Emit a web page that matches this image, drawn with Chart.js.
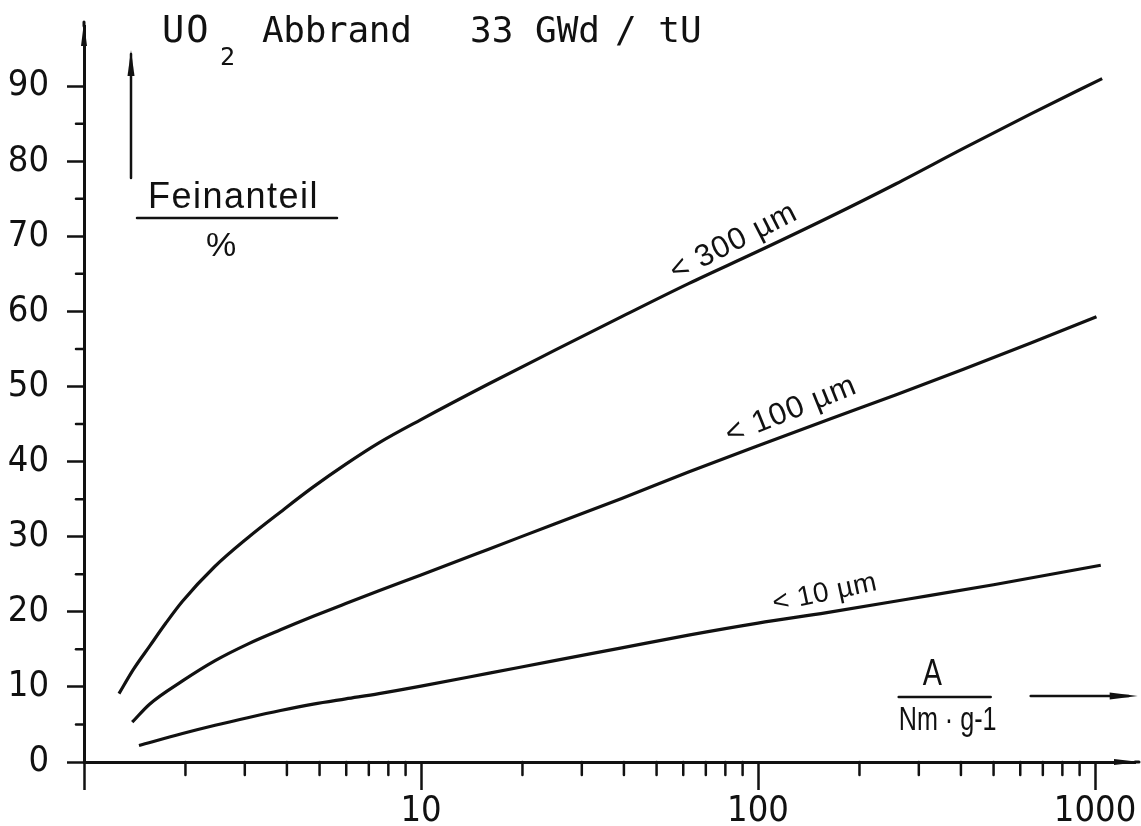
<!DOCTYPE html>
<html>
<head>
<meta charset="utf-8">
<title>UO2 Abbrand 33 GWd/tU – Feinanteil</title>
<script src="https://cdn.jsdelivr.net/npm/chart.js@4.4.1/dist/chart.umd.min.js"></script>
<style>
  html, body { margin: 0; padding: 0; background: #fff; overflow: hidden; }
  canvas { display: block; }
</style>
</head>
<body>
<canvas id="chart" width="1141" height="826"></canvas>
<script>
// Spezifische Zerkleinerungsenergie A (Nm·g-1) und Feinanteil (%) je Kornklasse
const energy300 = [1.27, 1.40, 1.57, 1.75, 1.96, 2.44, 3.07, 3.83, 4.78, 6.0, 7.5, 10, 15.8, 24.9, 39.4, 62.2, 100, 162, 257, 407, 645, 1050];
const fines300  = [9.1, 12.3, 15.5, 18.5, 21.4, 26.0, 29.9, 33.3, 36.6, 39.7, 42.5, 45.6, 50.3, 54.8, 59.3, 63.7, 68.0, 72.5, 77.0, 81.7, 86.3, 91.0];

const energy100 = [1.39, 1.565, 1.96, 2.45, 3.06, 3.83, 4.79, 5.98, 7.5, 10, 15.8, 24.9, 39.4, 62.2, 100, 162, 257, 407, 645, 1010];
const fines100  = [5.3, 7.7, 10.8, 13.5, 15.7, 17.6, 19.4, 21.1, 22.8, 24.9, 28.3, 31.7, 35.1, 38.6, 42.1, 45.6, 48.9, 52.3, 55.8, 59.3];

const energy10 = [1.456, 1.96, 2.45, 3.06, 3.83, 4.79, 5.98, 7.5, 10, 15.8, 24.9, 39.4, 62.2, 100, 160, 280, 500, 1040];
const fines10  = [2.2, 3.8, 4.9, 5.9, 6.85, 7.7, 8.4, 9.1, 10.1, 11.8, 13.5, 15.2, 16.9, 18.5, 19.9, 21.7, 23.6, 26.2];

const curveLabels = ['< 300 µm', '< 100 µm', '< 10 µm'];

// Achsen
const xTickValues = [10, 100, 1000];
const xTickLabels = ['10', '100', '1000'];
const yTickValues = [0, 10, 20, 30, 40, 50, 60, 70, 80, 90];
const yTickLabels = ['0', '10', '20', '30', '40', '50', '60', '70', '80', '90'];
const yMinorValues = [5, 15, 25, 35, 45, 55, 65, 75, 85];
const xDecades = [1, 10, 100];
const xMinorSteps = [2, 3, 4, 5, 6, 7, 8, 9];

const INK = '#111';
const NARROW = "'Liberation Sans Narrow', 'DejaVu Sans Condensed', 'Liberation Sans', Arial, sans-serif";
const SANS = "'Liberation Sans', Arial, sans-serif";
const MONO = "'DejaVu Sans Mono', 'Liberation Mono', monospace";

const xMinorValues = [];
xDecades.forEach(d => xMinorSteps.forEach(k => xMinorValues.push(d * k)));

const points = (xs, ys) => xs.map((x, i) => ({ x, y: ys[i] }));
const curve = (label, xs, ys) => ({
  label,
  data: points(xs, ys),
  borderColor: INK,
  borderWidth: 3.2,
  pointRadius: 0,
  cubicInterpolationMode: 'monotone',
  fill: false,
  clip: false
});

function drawText(ctx, str, x, y, font, opts = {}) {
  ctx.save();
  ctx.font = font;
  ctx.fillStyle = INK;
  ctx.textAlign = opts.align || 'left';
  ctx.textBaseline = opts.baseline || 'alphabetic';
  if (opts.spacing) ctx.letterSpacing = opts.spacing + 'px';
  ctx.translate(x, y);
  if (opts.angle) ctx.rotate(opts.angle * Math.PI / 180);
  if (opts.sx) ctx.scale(opts.sx, 1);
  ctx.fillText(str, 0, 0);
  ctx.restore();
}

function arrowHead(ctx, tipX, tipY, dirX, dirY, len, half) {
  const bx = tipX - dirX * len, by = tipY - dirY * len;
  const nx = -dirY, ny = dirX;
  ctx.beginPath();
  ctx.moveTo(tipX, tipY);
  ctx.lineTo(bx + nx * half, by + ny * half);
  ctx.lineTo(bx - nx * half, by - ny * half);
  ctx.closePath();
  ctx.fill();
}

function segment(ctx, x1, y1, x2, y2) {
  ctx.beginPath();
  ctx.moveTo(x1, y1);
  ctx.lineTo(x2, y2);
  ctx.stroke();
}

// Nebenstriche, Pfeile, Beschriftungen
const decorations = {
  id: 'decorations',
  afterDraw(chart) {
    const { ctx, chartArea: a, scales: { x, y } } = chart;
    ctx.save();
    ctx.strokeStyle = INK;
    ctx.fillStyle = INK;
    ctx.lineCap = 'round';

    // minor ticks
    ctx.lineWidth = 2.5;
    xMinorValues.forEach(v => {
      const px = x.getPixelForValue(v);
      segment(ctx, px, a.bottom, px, a.bottom + 13);
    });
    yMinorValues.forEach(v => {
      const py = y.getPixelForValue(v);
      segment(ctx, a.left - 8, py, a.left, py);
    });

    // axis arrows
    ctx.lineWidth = 3;
    segment(ctx, a.left, a.top, a.left, a.top - 4);
    arrowHead(ctx, a.left, a.top - 4, 0, -1, 24, 3);
    segment(ctx, a.right, a.bottom, a.right + 4, a.bottom);
    arrowHead(ctx, a.right + 5, a.bottom, 1, 0, 26, 3);

    // quantity arrow beside the y axis
    ctx.lineWidth = 2.5;
    segment(ctx, a.left + 47, a.top + 152, a.left + 47, a.top + 28);
    arrowHead(ctx, a.left + 47, a.top + 24, 0, -1, 26, 3.5);

    // y quantity: Feinanteil / %
    drawText(ctx, 'Feinanteil', a.left + 64, a.top + 182, '36px ' + SANS, { spacing: 1.5 });
    ctx.lineWidth = 2.5;
    segment(ctx, a.left + 53, a.top + 192, a.left + 253, a.top + 192);
    drawText(ctx, '%', a.left + 122, a.top + 230, '34px ' + SANS);

    // x quantity: A / Nm·g-1
    const qx = x.getPixelForValue(280);
    drawText(ctx, 'A', qx + 14, a.bottom - 77, '36px ' + SANS, { sx: 0.8 });
    segment(ctx, qx - 10, a.bottom - 65, qx + 82, a.bottom - 65);
    drawText(ctx, 'Nm · g-1', qx - 10, a.bottom - 32, '34px ' + SANS, { sx: 0.74 });
    segment(ctx, qx + 122, a.bottom - 66, qx + 220, a.bottom - 66);
    arrowHead(ctx, qx + 229, a.bottom - 66, 1, 0, 28, 3.5);

    // title
    drawText(ctx, 'UO', a.left + 78, 42, '37px ' + MONO, { spacing: 2 });
    drawText(ctx, '2', a.left + 136, 65, '25px ' + MONO);
    drawText(ctx, 'Abbrand', a.left + 178, 42, '36px ' + MONO, { spacing: -0.3 });
    drawText(ctx, '33 GWd', a.left + 386, 42, '36px ' + MONO);
    drawText(ctx, '/ tU', a.left + 531, 42, '36px ' + MONO);

    // curve labels
    const labelAt = (str, xv, yv, angle, size, spacing) =>
      drawText(ctx, str, x.getPixelForValue(xv), y.getPixelForValue(yv), size + 'px ' + SANS, { angle, spacing });
    labelAt(curveLabels[0], 57, 64.0, -27, 31, 1);
    labelAt(curveLabels[1], 82.6, 42.3, -22, 31, 1);
    labelAt(curveLabels[2], 112, 20.0, -12, 28, 0.5);

    ctx.restore();
  }
};

new Chart(document.getElementById('chart'), {
  type: 'line',
  data: {
    datasets: [
      curve(curveLabels[0], energy300, fines300),
      curve(curveLabels[1], energy100, fines100),
      curve(curveLabels[2], energy10, fines10)
    ]
  },
  options: {
    responsive: false,
    animation: false,
    events: [],
    layout: { padding: { top: 26, right: 6, left: 0, bottom: 0 } },
    plugins: {
      legend: { display: false },
      tooltip: { enabled: false },
      title: { display: false }
    },
    scales: {
      x: {
        type: 'logarithmic',
        min: 1,
        max: 1314,
        afterFit: s => { s.height = 64; s.paddingLeft = 0; s.paddingRight = 0; },
        afterBuildTicks: s => { s.ticks = [1].concat(xTickValues).map(v => ({ value: v })); },
        border: { display: true, color: INK, width: 3 },
        grid: {
          drawOnChartArea: false,
          drawTicks: true,
          tickLength: 28,
          tickWidth: 2.5,
          tickColor: INK
        },
        ticks: {
          autoSkip: false,
          maxRotation: 0,
          padding: 0,
          color: INK,
          font: { family: NARROW, size: 36 },
          callback: v => {
            const i = xTickValues.indexOf(v);
            return i >= 0 ? xTickLabels[i] : '';
          }
        }
      },
      y: {
        type: 'linear',
        min: 0,
        max: 98,
        afterFit: s => { s.width = 84; s.paddingTop = 0; s.paddingBottom = 0; },
        afterBuildTicks: s => { s.ticks = yTickValues.map(v => ({ value: v })); },
        border: { display: true, color: INK, width: 3 },
        grid: {
          drawOnChartArea: false,
          drawTicks: true,
          tickLength: 17,
          tickWidth: 2.5,
          tickColor: INK
        },
        ticks: {
          autoSkip: false,
          padding: 18,
          color: INK,
          font: { family: NARROW, size: 36 },
          callback: v => {
            const i = yTickValues.indexOf(v);
            return i >= 0 ? yTickLabels[i] : '';
          }
        }
      }
    }
  },
  plugins: [decorations]
});
</script>
</body>
</html>
